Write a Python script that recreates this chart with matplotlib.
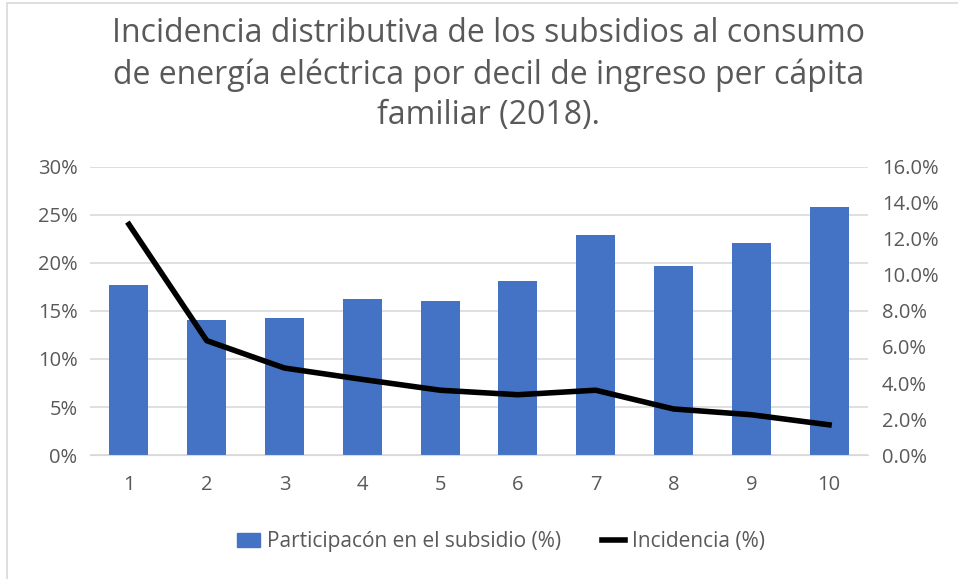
import numpy as np
import matplotlib.pyplot as plt
from matplotlib.ticker import PercentFormatter
from matplotlib.patches import Patch, Rectangle
from matplotlib.lines import Line2D

plt.rcParams['font.family'] = ['Open Sans', 'DejaVu Sans']

# Datos
deciles = [1, 2, 3, 4, 5, 6, 7, 8, 9, 10]
participacion = [17.7, 14.1, 14.3, 16.2, 16.0, 18.1, 22.9, 19.7, 22.1, 25.8]
incidencia = [12.8, 6.35, 4.83, 4.2, 3.6, 3.35, 3.6, 2.56, 2.24, 1.68]

gris = '#595959'
azul = '#4472C4'

fig = plt.figure(figsize=(9.58, 5.79), dpi=100)
ax = fig.add_axes([0.094, 0.214, 0.812, 0.498])
ax2 = ax.twinx()

ax.bar(deciles, participacion, width=0.5, color=azul, zorder=2)
ax2.plot(deciles, incidencia, color='black', lw=4, zorder=3)

ax.set_xlim(0.5, 10.5)
ax.set_ylim(0, 30)
ax2.set_ylim(0, 16)
ax.set_yticks(range(0, 31, 5))
ax2.set_yticks(range(0, 17, 2))
ax.yaxis.set_major_formatter(PercentFormatter(decimals=0))
ax2.yaxis.set_major_formatter(PercentFormatter(decimals=1))
ax.set_xticks(deciles)

ax.grid(axis='y', color='#D9D9D9', lw=1.2, zorder=0)
ax.set_axisbelow(True)
for a in (ax, ax2):
    for s in a.spines.values():
        s.set_visible(False)
    a.tick_params(length=0, labelsize=14.5, labelcolor=gris)
ax.spines['bottom'].set_visible(True)
ax.spines['bottom'].set_color('#D9D9D9')
ax.tick_params(axis='y', pad=9)
ax.tick_params(axis='x', pad=14)
ax2.tick_params(axis='y', pad=10)
ax.set_zorder(ax2.get_zorder() - 1)
ax2.patch.set_visible(False)

fig.text(0.51, 0.97, 'Incidencia distributiva de los subsidios al consumo\n'
         'de energía eléctrica por decil de ingreso per cápita\nfamiliar (2018).',
         ha='center', va='top', fontsize=23, color=gris, linespacing=1.3)

handles = [Patch(color=azul, label='Participacón en el subsidio (%)'),
           Line2D([], [], color='black', lw=4, label='Incidencia (%)')]
fig.legend(handles=handles, loc='center', bbox_to_anchor=(0.523, 0.064), ncol=2,
           frameon=False, fontsize=15, labelcolor=gris, handlelength=1.1,
           handletextpad=0.3, columnspacing=2.0)

# borde claro del gráfico
fig.patches.append(Rectangle((0.007, -0.1), 1.1, 1.094, transform=fig.transFigure,
                             fill=False, edgecolor='#D9D9D9', lw=1.2))

fig.savefig('out.png', dpi=100)
